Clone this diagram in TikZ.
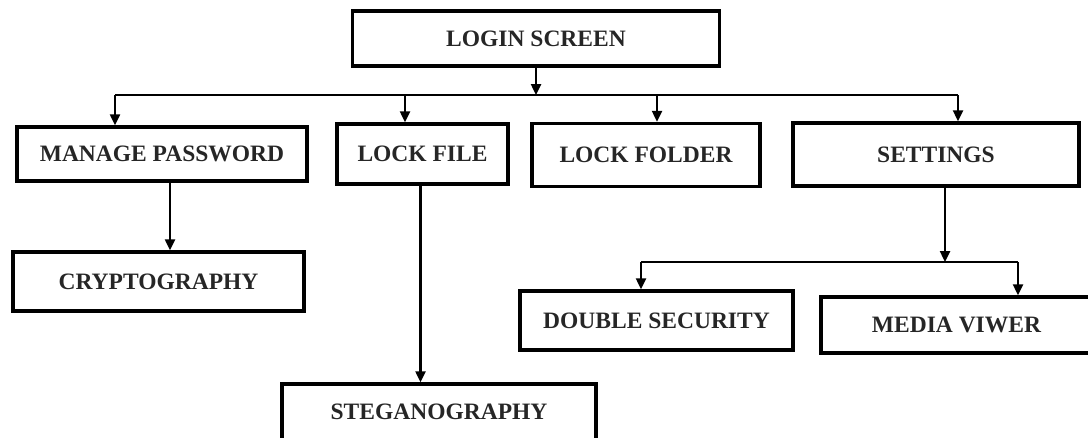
\documentclass[tikz,border=0pt]{standalone}
\usepackage{fontspec}
\setmainfont{Liberation Serif}
\usetikzlibrary{arrows.meta}

\begin{document}
\begin{tikzpicture}[x=1pt, y=-1pt,
    box/.style = {draw, line width=3.5pt, rectangle, inner sep=0pt,
                  font=\bfseries\fontsize{23.5}{23.5}\selectfont, text=black!85},
    link/.style = {line width=2.4pt, -{Triangle[length=11pt,width=10pt]}},
    bus/.style = {line width=2.4pt}]

      \useasboundingbox (0,0) rectangle (1088,437);

      \node[box, minimum width=367pt, minimum height=55pt] (login) at (536,38.5) {LOGIN SCREEN};

      \node[box, minimum width=290pt, minimum height=54pt] (manage) at (162,154) {MANAGE PASSWORD};
      \node[box, minimum width=171pt, minimum height=60pt] (lockfile) at (422.5,154) {LOCK FILE};
      \node[box, minimum width=228pt, minimum height=63pt] (lockfolder) at (646,155) {LOCK FOLDER};
      \node[box, minimum width=286pt, minimum height=63pt] (settings) at (936,154.5) {SETTINGS};

      \node[box, minimum width=291pt, minimum height=59pt] (crypto) at (158.5,281.5) {CRYPTOGRAPHY};
      \node[box, minimum width=314pt, minimum height=56pt] (steg) at (439,412) {STEGANOGRAPHY};
      \node[box, minimum width=273pt, minimum height=59pt] (double) at (656.5,320.5) {DOUBLE SECURITY};
      \node[box, minimum width=271pt, minimum height=56pt] (media) at (956.5,325) {MEDIA VIWER};

      \coordinate (b1) at (115,95);
      \coordinate (b2) at (405,95);
      \coordinate (b3) at (657,95);
      \coordinate (b4) at (958,95);
      \coordinate (s1) at (641,262);
      \coordinate (s2) at (1018,262);

      \draw[link] (login.south) -- (login.south |- b1);
      \draw[bus] (b1) -- (b4);
      \draw[link] (b1) -- (manage.north -| b1);
      \draw[link] (b2) -- (lockfile.north -| b2);
      \draw[link] (b3) -- (lockfolder.north -| b3);
      \draw[link] (b4) -- (settings.north -| b4);

      \draw[link] ([xshift=8pt]manage.south) -- ([xshift=8pt]manage.south |- crypto.north);
      \draw[link] ([xshift=-2pt]lockfile.south) -- ([xshift=-2pt]lockfile.south |- steg.north);

      \draw[link] ([xshift=9pt]settings.south) -- ([xshift=9pt]settings.south |- s1);
      \draw[bus] (s1) -- (s2);
      \draw[link] (s1) -- (double.north -| s1);
      \draw[link] (s2) -- (media.north -| s2);
    \end{tikzpicture}
\end{document}
